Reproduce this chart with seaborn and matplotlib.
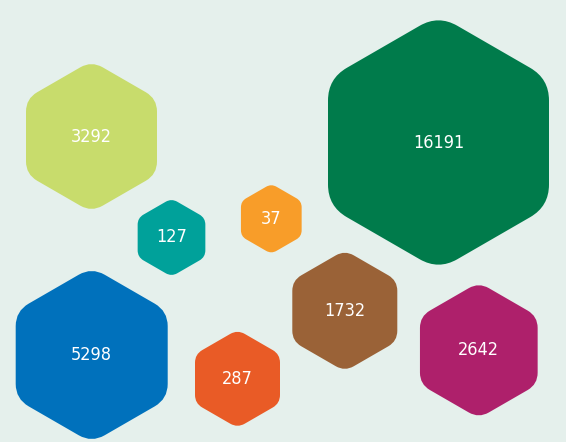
import numpy as np
import pandas as pd
import matplotlib
matplotlib.use("Agg")
import matplotlib.pyplot as plt
from matplotlib.path import Path
from matplotlib.markers import MarkerStyle
import seaborn as sns

# values shown in the hexagons
values = [3292, 16191, 127, 37, 5298, 1732, 287, 2642]
colors = ["#c8dc6c", "#007b4b", "#00a19a", "#f89d29",
          "#0071bc", "#9a6237", "#e95b26", "#ae206b"]
# layout: centre positions (px) and hexagon widths (px)
pos_x = [91.5, 438.5, 171.5, 271.3, 91.7, 344.8, 237.5, 478.8]
pos_y = [136.5, 142.5, 237.5, 218.8, 355.0, 310.8, 378.8, 350.3]
hex_w = [131, 221, 67.7, 60.7, 152, 105, 85, 117.7]

bg = "#e5f0ec"
W, H = 566, 442

df = pd.DataFrame({"x": pos_x, "y": pos_y, "value": values})
df["label"] = df["value"].astype(str)


def rounded_hexagon(t=0.17):
    # pointy-top hexagon with quadratic-bezier rounded corners
    ang = np.deg2rad(90 + 60 * np.arange(6))
    pts = np.c_[np.cos(ang), np.sin(ang)]
    verts, codes = [], []
    for i in range(6):
        p = pts[i]
        prev = pts[i - 1]
        nxt = pts[(i + 1) % 6]
        a = p + (prev - p) * t
        b = p + (nxt - p) * t
        if i == 0:
            verts.append(a)
            codes.append(Path.MOVETO)
        else:
            verts.append(a)
            codes.append(Path.LINETO)
        verts += [p, b]
        codes += [Path.CURVE3, Path.CURVE3]
    verts.append(verts[0])
    codes.append(Path.CLOSEPOLY)
    return Path(np.array(verts), codes)


hex_marker = MarkerStyle(rounded_hexagon())

# marker size (pt^2): full pointy height 2R = 2w/sqrt(3) px, 1 px = 0.72 pt
sizes = {v: (2 * w / np.sqrt(3) * 0.72) ** 2 for v, w in zip(values, hex_w)}
palette = {l: c for l, c in zip(df["label"], colors)}

fig = plt.figure(figsize=(W / 100, H / 100), dpi=100, facecolor=bg)
ax = fig.add_axes([0, 0, 1, 1])
ax.set_facecolor(bg)

sns.scatterplot(data=df, x="x", y="y", hue="label", palette=palette,
                size="value", sizes=sizes, marker=hex_marker,
                linewidth=0, legend=False, ax=ax)

for x, y, l in zip(df["x"], df["y"], df["label"]):
    ax.text(x, y, l, ha="center", va="center", color="white",
            fontsize=13, family="DejaVu Sans", fontstretch="condensed")

ax.set_xlim(0, W)
ax.set_ylim(H, 0)
ax.axis("off")
fig.savefig("out.png", dpi=100, facecolor=bg)
